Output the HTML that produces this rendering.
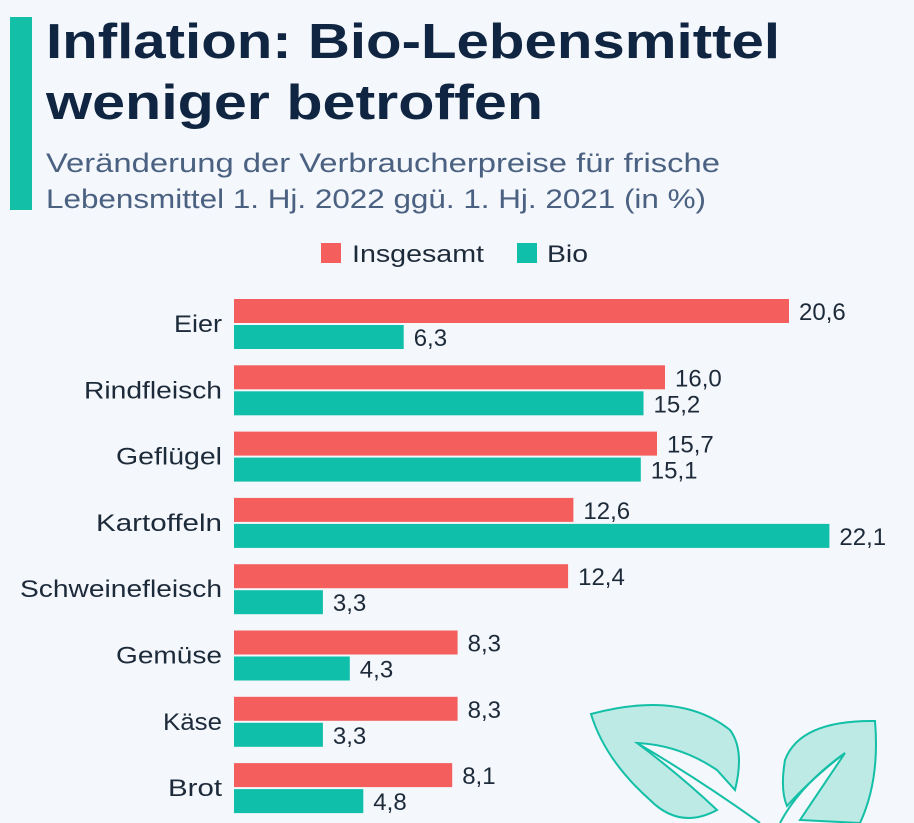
<!DOCTYPE html>
<html><head><meta charset="utf-8"><style>
body{margin:0;background:#f4f7fb;}
svg{display:block;font-family:"Liberation Sans","DejaVu Sans",sans-serif;}
</style></head><body>
<svg width="914" height="823" viewBox="0 0 914 823" xmlns="http://www.w3.org/2000/svg">
<rect width="914" height="823" fill="#f4f7fb"/>
<rect x="10" y="17" width="22" height="193" fill="#13bfa6"/>
<text x="46" y="58" font-size="49" font-weight="bold" fill="#0f2541" textLength="734" lengthAdjust="spacingAndGlyphs">Inflation: Bio-Lebensmittel</text>
<text x="46" y="119" font-size="49" font-weight="bold" fill="#0f2541" textLength="497" lengthAdjust="spacingAndGlyphs">weniger betroffen</text>
<text x="46" y="172" font-size="27" fill="#4b6181" textLength="674" lengthAdjust="spacingAndGlyphs">Veränderung der Verbraucherpreise für frische</text>
<text x="46" y="208" font-size="27" fill="#4b6181" textLength="660" lengthAdjust="spacingAndGlyphs">Lebensmittel 1. Hj. 2022 ggü. 1. Hj. 2021 (in %)</text>
<rect x="321" y="243" width="20" height="20" fill="#f45f5e"/>
<text x="352" y="262" font-size="24" fill="#1d2a3a" textLength="132" lengthAdjust="spacingAndGlyphs">Insgesamt</text>
<rect x="517" y="243" width="20" height="20" fill="#10bfaa"/>
<text x="547" y="262" font-size="24" fill="#1d2a3a" textLength="41" lengthAdjust="spacingAndGlyphs">Bio</text>
<g stroke="#13bfa6" stroke-width="2" fill="#bdeae4">
<path d="M591 714 Q680 690 730 730 Q745 750 735 790 L717 770 Q680 745 637 743 Q680 775 717 810 Q680 830 650 800 Q605 760 591 714 Z"/>
<path d="M875 721 Q800 720 785 760 Q780 790 787 806 Q810 780 845 753 Q820 790 800 820 L860 823 Q880 780 875 721 Z"/>
<path d="M637 743 Q700 780 760 823" fill="none"/>
<path d="M845 753 Q800 785 780 823" fill="none"/>
</g>
<g font-size="24" fill="#1d2a3a">
<g fill="#f45f5e">
<rect x="234" y="299" width="555" height="24"/>
<rect x="234" y="365.3" width="431" height="24"/>
<rect x="234" y="431.6" width="423" height="24"/>
<rect x="234" y="497.9" width="339.4" height="24"/>
<rect x="234" y="564.2" width="334.1" height="24"/>
<rect x="234" y="630.5" width="223.6" height="24"/>
<rect x="234" y="696.8" width="223.6" height="24"/>
<rect x="234" y="763.1" width="218.2" height="24"/>
</g>
<g fill="#10bfaa">
<rect x="234" y="325" width="169.7" height="24"/>
<rect x="234" y="391.3" width="409.5" height="24"/>
<rect x="234" y="457.6" width="406.8" height="24"/>
<rect x="234" y="523.9" width="595.4" height="24"/>
<rect x="234" y="590.2" width="88.9" height="24"/>
<rect x="234" y="656.5" width="115.8" height="24"/>
<rect x="234" y="722.8" width="88.9" height="24"/>
<rect x="234" y="789.1" width="129.3" height="24"/>
</g>
<g text-anchor="end">
<text x="222" y="332" textLength="48" lengthAdjust="spacingAndGlyphs">Eier</text>
<text x="222" y="398.3" textLength="138" lengthAdjust="spacingAndGlyphs">Rindfleisch</text>
<text x="222" y="464.6" textLength="106" lengthAdjust="spacingAndGlyphs">Geflügel</text>
<text x="222" y="530.9" textLength="126" lengthAdjust="spacingAndGlyphs">Kartoffeln</text>
<text x="222" y="597.2" textLength="202" lengthAdjust="spacingAndGlyphs">Schweinefleisch</text>
<text x="222" y="663.5" textLength="106" lengthAdjust="spacingAndGlyphs">Gemüse</text>
<text x="222" y="729.8" textLength="59" lengthAdjust="spacingAndGlyphs">Käse</text>
<text x="222" y="796.1" textLength="54" lengthAdjust="spacingAndGlyphs">Brot</text>
</g>
<text x="799" y="320">20,6</text>
<text x="413.7" y="346">6,3</text>
<text x="675" y="386.3">16,0</text>
<text x="653.5" y="412.3">15,2</text>
<text x="667" y="452.6">15,7</text>
<text x="650.8" y="478.6">15,1</text>
<text x="583.4" y="518.9">12,6</text>
<text x="839.4" y="544.9">22,1</text>
<text x="578.1" y="585.2">12,4</text>
<text x="332.9" y="611.2">3,3</text>
<text x="467.6" y="651.5">8,3</text>
<text x="359.8" y="677.5">4,3</text>
<text x="467.6" y="717.8">8,3</text>
<text x="332.9" y="743.8">3,3</text>
<text x="462.2" y="784.1">8,1</text>
<text x="373.3" y="810.1">4,8</text>
</g>
</svg>
</body></html>
